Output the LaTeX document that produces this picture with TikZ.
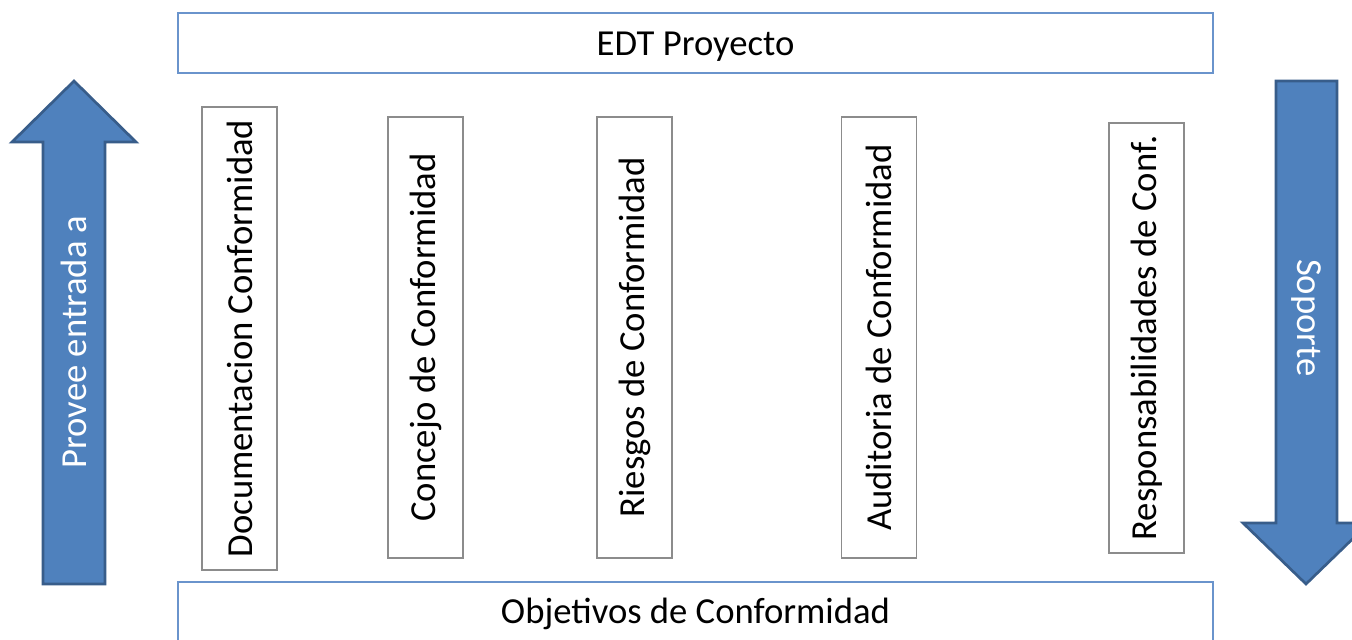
\documentclass[tikz,border=0pt]{standalone}
\usepackage{fontspec}
\setmainfont{Carlito}
\definecolor{arrowfill}{HTML}{4F81BD}
\definecolor{arrowline}{HTML}{385D8A}
\definecolor{boxline}{HTML}{6A94CC}
\definecolor{colline}{HTML}{8C8C8C}
\begin{document}
\begin{tikzpicture}[x=0.75pt,y=-0.75pt,
  txt/.style={font=\fontsize{27.5}{33}\selectfont},
  widebox/.style={txt, draw=boxline, line width=1.2pt, minimum width=776.25pt, minimum height=45pt, inner sep=0pt},
  colbox/.style={txt, draw=colline, line width=1.1pt, rotate=90, minimum height=56.25pt, inner sep=0pt},
  bigarrow/.style={fill=arrowfill, draw=arrowline, line width=2pt, line join=miter},
  arrowtxt/.style={txt, text=white, inner sep=0pt}]
\fill[white] (0,0) rectangle (1352,639);
\clip (0,0) rectangle (1352,639);
\useasboundingbox (0,0) rectangle (1352,639);
% top and bottom boxes
\node[widebox] (edt) at (695.5,43) {\raisebox{-3pt}[\height][\depth]{EDT Proyecto}};
\node[widebox] (obj) at (695.5,612) {\raisebox{-1.5pt}[\height][\depth]{Objetivos de Conformidad}};
% columns
\node[colbox, minimum width=347.25pt] (c1) at (239.5,338.5) {Documentacion Conformidad};
\node[colbox, minimum width=330.75pt] (c2) at (425.5,337.5) {Concejo de Conformidad};
\node[colbox, minimum width=330.75pt] (c3) at (634.5,337.5) {Riesgos de Conformidad};
\node[colbox, minimum width=330.75pt] (c4) at (879,337.5) {Auditoria de Conformidad};
\node[colbox, minimum width=322.5pt] (c5) at (1146.5,338) {Responsabilidades de Conf.};
% arrows
\draw[bigarrow] (43,584) -- (43,142) -- (12,142) -- (74,81) -- (136,142) -- (105,142) -- (105,584) -- cycle;
\draw[bigarrow] (1276,81) -- (1337,81) -- (1337,523) -- (1369,523) -- (1306,584) -- (1243,523) -- (1276,523) -- cycle;
\node[arrowtxt, rotate=90] (prov) at (74,342) {Provee entrada a};
\node[arrowtxt, rotate=-90] (sop) at (1306,318) {Soporte};
\end{tikzpicture}
\end{document}
